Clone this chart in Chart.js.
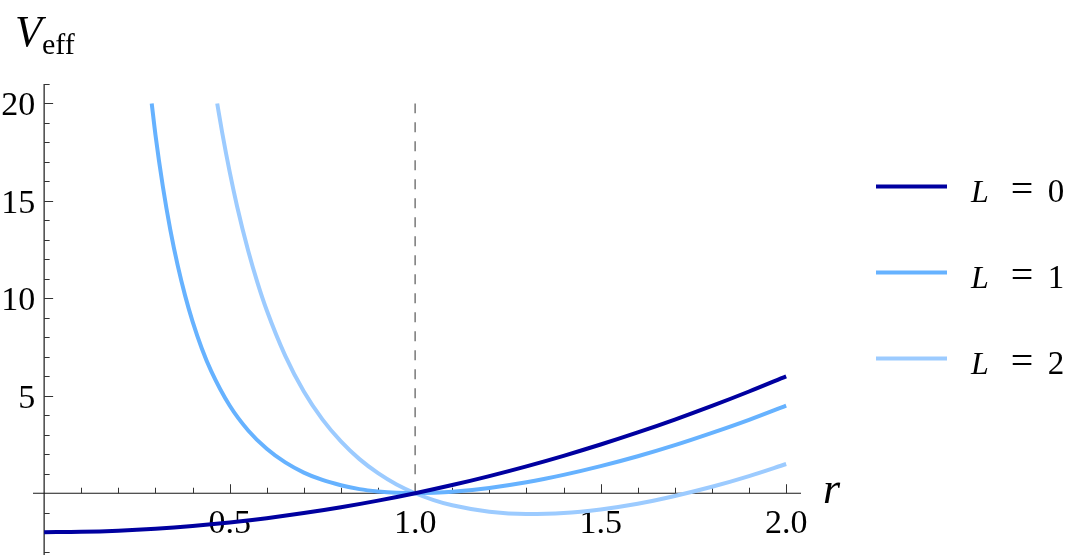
<!DOCTYPE html>
<html><head><meta charset="utf-8">
<script src="https://cdn.jsdelivr.net/npm/chart.js@4"></script>
<style>html,body{margin:0;padding:0;background:#fff}
#wrap{width:1080px;height:560px;position:relative;overflow:hidden}
#c{position:absolute;left:0;top:0}</style>
</head><body><div id="wrap"><canvas id="c" width="1080" height="560"></canvas></div>
<script>
// ---- data ----
const seriesNames = ['0', '1', '2'];
const seriesColors = ['#0000a0', '#66b2ff', '#9ccbff'];

const rL0 = [0, 0.1, 0.2, 0.3, 0.4, 0.5, 0.6, 0.7, 0.8, 0.9, 1.0, 1.1, 1.2, 1.3, 1.4, 1.5, 1.6, 1.7, 1.8, 1.9, 2.0];
const vL0 = [-2.0, -1.98, -1.92, -1.82, -1.68, -1.5, -1.28, -1.02, -0.72, -0.38, 0, 0.42, 0.88, 1.38, 1.92, 2.5, 3.12, 3.78, 4.48, 5.22, 6.0];

const rL1 = [0.29, 0.30, 0.32, 0.34, 0.36, 0.38, 0.40, 0.425, 0.45, 0.50, 0.55, 0.60, 0.65, 0.70, 0.75, 0.80, 0.85, 0.90, 0.95, 1.0, 1.05, 1.1, 1.2, 1.3, 1.4, 1.5, 1.6, 1.7, 1.8, 1.9, 2.0];
const vL1 = [20.0, 18.40, 15.74, 13.53, 11.69, 10.14, 8.82, 7.43, 6.28, 4.5, 3.22, 2.28, 1.58, 1.06, 0.68, 0.41, 0.21, 0.09, 0.02, 0, 0.02, 0.07, 0.27, 0.56, 0.94, 1.39, 1.90, 2.47, 3.10, 3.77, 4.5];

const rL2 = [0.4665, 0.48, 0.50, 0.52, 0.55, 0.575, 0.60, 0.65, 0.70, 0.75, 0.80, 0.85, 0.90, 0.95, 1.0, 1.05, 1.1, 1.2, 1.3, 1.4, 1.5, 1.6, 1.7, 1.8, 1.9, 2.0];
const vL2 = [20.0, 18.50, 16.5, 14.73, 12.44, 10.81, 9.39, 7.05, 5.22, 3.79, 2.66, 1.75, 1.03, 0.45, 0, -0.35, -0.62, -0.95, -1.07, -1.02, -0.83, -0.54, -0.14, 0.33, 0.88, 1.5];

const refLineR = [1, 1];
const refLineV = [0, 20];

const xTicks = [0.1, 0.2, 0.3, 0.4, 0.5, 0.6, 0.7, 0.8, 0.9, 1.0, 1.1, 1.2, 1.3, 1.4, 1.5, 1.6, 1.7, 1.8, 1.9, 2.0];
const xTickLabels = ['0.5', '1.0', '1.5', '2.0'];
const xTickLabelValues = [0.5, 1.0, 1.5, 2.0];
const yTicks = [-3, -2, -1, 1, 2, 3, 4, 5, 6, 7, 8, 9, 10, 11, 12, 13, 14, 15, 16, 17, 18, 19, 20, 21];
const yTickLabels = ['5', '10', '15', '20'];
const yTickLabelValues = [5, 10, 15, 20];

const xAxisTitle = 'r';
const yAxisTitleMain = 'V';
const yAxisTitleSub = 'eff';

// ---- build datasets ----
function pts(rs, vs) { return rs.map((r, i) => ({x: r, y: vs[i]})); }
const curves = [pts(rL0, vL0), pts(rL1, vL1), pts(rL2, vL2)];
const datasets = curves.map((d, i) => ({
  label: 'L = ' + seriesNames[i],
  data: d,
  borderColor: seriesColors[i],
  backgroundColor: seriesColors[i],
  borderWidth: 4,
  pointRadius: 0,
  fill: false,
  cubicInterpolationMode: 'monotone',
  borderCapStyle: 'butt'
}));
datasets.push({
  label: 'ref',
  data: pts(refLineR, refLineV),
  borderColor: '#808080',
  borderWidth: 1.6,
  borderDash: [10, 9],
  pointRadius: 0,
  fill: false
});

const FAM = '"Liberation Serif"';
const legendRows = [186.5, 272.5, 358.5];

const axesPlugin = {
  id: 'mathAxes',
  beforeDatasetsDraw(chart) {
    const ctx = chart.ctx, xs = chart.scales.x, ys = chart.scales.y, ca = chart.chartArea;
    const x0 = xs.getPixelForValue(0), y0 = ys.getPixelForValue(0);
    ctx.save();
    ctx.strokeStyle = '#1a1a1a';
    ctx.lineWidth = 1.2;
    ctx.beginPath();
    ctx.moveTo(ca.left, y0); ctx.lineTo(ca.right, y0);
    ctx.moveTo(x0, ca.top); ctx.lineTo(x0, ca.bottom);
    ctx.stroke();
    ctx.lineWidth = 1;
    ctx.strokeStyle = '#333';
    ctx.beginPath();
    xTicks.forEach(v => {
      const px = Math.round(xs.getPixelForValue(v)) + 0.5;
      const major = Math.abs(v * 2 - Math.round(v * 2)) < 1e-6;
      ctx.moveTo(px, y0); ctx.lineTo(px, y0 - (major ? 9 : 5.5));
    });
    yTicks.forEach(v => {
      const py = Math.round(ys.getPixelForValue(v)) + 0.5;
      const major = v % 5 === 0;
      ctx.moveTo(x0, py); ctx.lineTo(x0 + (major ? 9 : 5.5), py);
    });
    ctx.stroke();

    ctx.fillStyle = '#000';
    ctx.textBaseline = 'alphabetic';
    ctx.font = '34px ' + FAM;
    ctx.textAlign = 'center';
    xTickLabels.forEach((t, i) => ctx.fillText(t, xs.getPixelForValue(xTickLabelValues[i]), y0 + 40));
    ctx.textAlign = 'right';
    yTickLabels.forEach((t, i) => ctx.fillText(t, x0 - 9, ys.getPixelForValue(yTickLabelValues[i]) + 12));
    ctx.textAlign = 'left';
    ctx.font = 'italic 44px ' + FAM;
    ctx.fillText(xAxisTitle, 823, y0 + 10);
    ctx.fillText(yAxisTitleMain, 15, 46);
    ctx.font = '30px ' + FAM;
    ctx.fillText(yAxisTitleSub, 42, 54);
    ctx.restore();
  },
  afterDraw(chart) {
    const ctx = chart.ctx;
    ctx.save();
    seriesNames.forEach((n, i) => {
      const y = legendRows[i];
      ctx.strokeStyle = seriesColors[i];
      ctx.lineWidth = 4;
      ctx.beginPath();
      ctx.moveTo(876, y); ctx.lineTo(947, y);
      ctx.stroke();
      ctx.fillStyle = '#000';
      ctx.textBaseline = 'alphabetic';
      ctx.textAlign = 'left';
      ctx.font = 'italic 32px ' + FAM;
      ctx.fillText('L', 971, y + 15);
      ctx.textAlign = 'center';
      ctx.font = '40px ' + FAM;
      ctx.fillText('=', 1022, y + 15);
      ctx.font = '33px ' + FAM;
      ctx.fillText(n, 1056, y + 15);
    });
    ctx.restore();
  }
};

new Chart(document.getElementById('c'), {
  type: 'line',
  data: { datasets },
  options: {
    responsive: false,
    animation: false,
    layout: { padding: { left: 33, right: 279, top: 84, bottom: 5 } },
    plugins: { legend: { display: false }, tooltip: { enabled: false } },
    scales: {
      x: { type: 'linear', min: -0.03, max: 2.04, display: false },
      y: { type: 'linear', min: -3.17, max: 21, display: false }
    }
  },
  plugins: [axesPlugin]
});
</script>
</body></html>
